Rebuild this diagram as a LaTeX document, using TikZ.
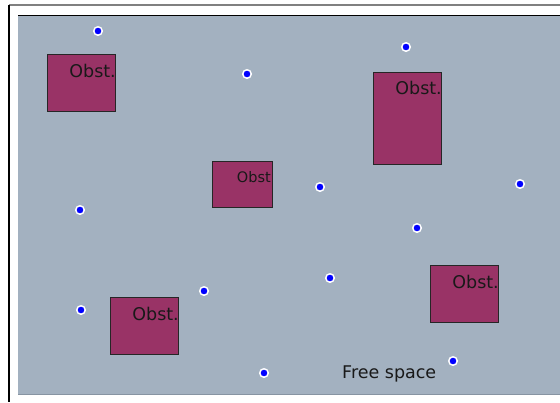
\documentclass[tikz,border=0pt]{standalone}
\usepackage{fontspec}
\setmainfont{DejaVu Sans}
\definecolor{freebg}{RGB}{163,177,192}
\definecolor{obstfill}{RGB}{153,51,102}
\definecolor{dotblue}{RGB}{0,0,255}
\definecolor{bottomline}{RGB}{135,148,162}
\begin{document}
\begin{tikzpicture}[x=1pt,y=-1pt,
  obstbox/.style={draw=black!85,line width=0.9pt,fill=obstfill},
  obstlabel/.style={anchor=base east,inner sep=0pt,font=\fontsize{17.5}{17.5}\selectfont,text=black!90},
  sample/.style={circle,fill=dotblue,draw=white,line width=1.5pt,inner sep=0pt,minimum size=8.5pt}
]
\useasboundingbox (0,0) rectangle (560,402);
\fill[white] (0,0) rectangle (560,402);
% outer frame
\draw[gray,line width=1.5pt] (9,5) -- (560,5);
\draw[black,line width=1.5pt] (9,5) -- (9,402);
% free space panel
\fill[freebg] (18,15) rectangle (560,394.5);
\draw[black,line width=1pt] (18,15.5) -- (560,15.5);
\draw[bottomline,line width=1pt] (18,394.5) -- (560,394.5);
% obstacles
\draw[obstbox] (47,54) rectangle (115,111);
\coordinate (o1) at (115,54);
\draw[obstbox] (373,72) rectangle (441,164);
\coordinate (o2) at (441,72);
\draw[obstbox] (212,161) rectangle (272,207);
\coordinate (o3) at (272,161);
\draw[obstbox] (430,265) rectangle (498,322);
\coordinate (o4) at (498,265);
\draw[obstbox] (110,297) rectangle (178,354);
\coordinate (o5) at (178,297);
\node[obstlabel] (t1) at ([shift={(1,23)}]o1) {Obst.};
\node[obstlabel] (t2) at ([shift={(1,22)}]o2) {Obst.};
\node[obstlabel,font=\fontsize{14.5}{14.5}\selectfont] (t3) at ([shift={(-1,21)}]o3) {Obst};
\node[obstlabel] (t4) at ([shift={(1,23)}]o4) {Obst.};
\node[obstlabel] (t5) at ([shift={(1,23)}]o5) {Obst.};
% samples
\node[sample] (s1) at (98,31) {};
\node[sample] (s2) at (247,74) {};
\node[sample] (s3) at (406,47) {};
\node[sample] (s4) at (80,210) {};
\node[sample] (s5) at (320,187) {};
\node[sample] (s6) at (520,184) {};
\node[sample] (s7) at (417,228) {};
\node[sample] (s8) at (330,278) {};
\node[sample] (s9) at (204,291) {};
\node[sample] (s10) at (81,310) {};
\node[sample] (s11) at (453,361) {};
\node[sample] (s12) at (264,373) {};
% label
\node[anchor=base west,inner sep=0pt,font=\fontsize{17.5}{17.5}\selectfont,text=black!90] (fs) at (342,378) {Free space};
\end{tikzpicture}
\end{document}
